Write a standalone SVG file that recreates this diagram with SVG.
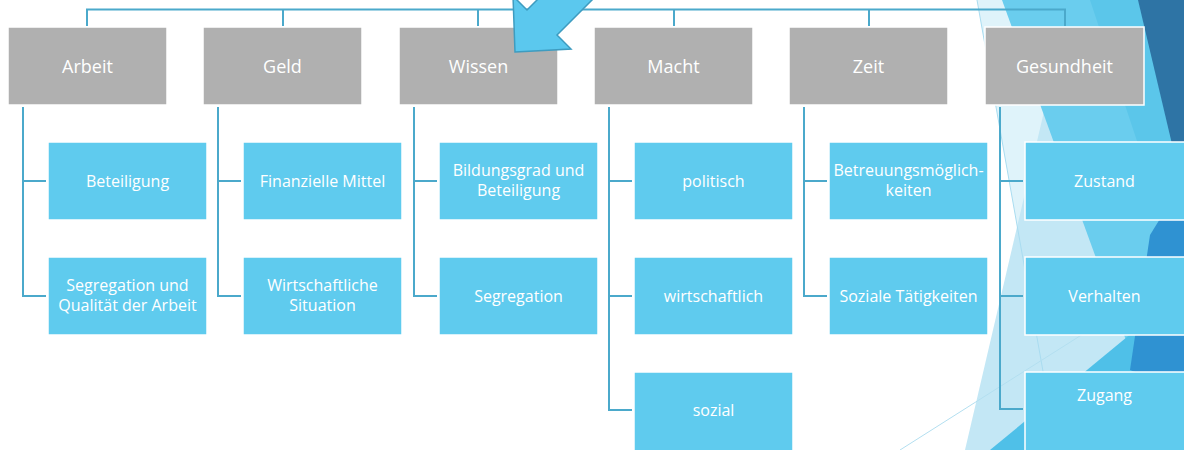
<svg xmlns="http://www.w3.org/2000/svg" width="1184" height="450" viewBox="0 0 1184 450">
<style>
.p{fill:#B0B0B0;stroke:#FFFFFF;stroke-width:1.5}
.c{fill:#5FCBEE;stroke:#FFFFFF;stroke-width:1.5}
.pt{font-family:"Open Sans","Noto Sans",sans-serif;font-size:18px;fill:#FFFFFF;text-anchor:middle}
.ct{font-family:"Open Sans","Noto Sans",sans-serif;font-size:16px;fill:#FFFFFF;text-anchor:middle}
.ln{fill:none;stroke:#4BA9CB;stroke-width:2}
</style>
<rect width="1184" height="450" fill="#FFFFFF"/>
<g id="background">
<polygon points="977,0 1184,0 1184,450 1057,450" fill="#DFF3FA"/>
<polygon points="965,450 1070,0 1184,0 1184,450" fill="#C3E7F5"/>
<polygon points="1002,0 1184,0 1184,450 1166,450" fill="#6ACDEE"/>
<polygon points="1090,0 1184,0 1184,300 1170,240" fill="#5BC6EA"/>
<polygon points="990,450 1184,290 1184,450" fill="#4FC0E8"/>
<polygon points="1150,235 1184,180 1184,390 1130,370" fill="#2F92D2"/>
<polygon points="1138,0 1184,0 1184,195" fill="#2E74A5"/>
<line x1="977" y1="0" x2="1057" y2="450" stroke="#A9DCF0" stroke-width="1"/>
<line x1="900" y1="450" x2="1184" y2="270" stroke="#B3DFF0" stroke-width="1"/>
</g>
<g id="connectors">
<path class="ln" d="M87,26 V9.5 H1065 V26 M283,9.5 V26 M478,9.5 V26 M674,9.5 V26 M869,9.5 V26"/>
<path class="ln" d="M23,107 V296 H46 M23,181 H46"/>
<path class="ln" d="M218,107 V296 H241 M218,181 H241"/>
<path class="ln" d="M414,107 V296 H437 M414,181 H437"/>
<path class="ln" d="M609,107 V410 H632 M609,181 H632 M609,296 H632"/>
<path class="ln" d="M804,107 V296 H827 M804,181 H827"/>
<path class="ln" d="M1000,107 V409 H1023 M1000,181 H1023 M1000,296 H1023"/>
</g>
<g id="n-arbeit"><rect class="p" x="8" y="27" width="159" height="78"/><text class="pt" x="87.5" y="73">Arbeit</text></g>
<g id="n-geld"><rect class="p" x="203" y="27" width="159" height="78"/><text class="pt" x="282.5" y="73">Geld</text></g>
<g id="n-wissen"><rect class="p" x="399" y="27" width="159" height="78"/><text class="pt" x="478.5" y="73">Wissen</text></g>
<g id="n-macht"><rect class="p" x="594" y="27" width="159" height="78"/><text class="pt" x="673.5" y="73">Macht</text></g>
<g id="n-zeit"><rect class="p" x="789" y="27" width="159" height="78"/><text class="pt" x="868.5" y="73">Zeit</text></g>
<g id="n-gesundheit"><rect class="p" x="985" y="27" width="159" height="78"/><text class="pt" x="1064.5" y="73">Gesundheit</text></g>

<g id="n-beteiligung"><rect class="c" x="48" y="142" width="159" height="78"/><text class="ct" x="127.5" y="187">Beteiligung</text></g>
<g id="n-segregation-qualitaet"><rect class="c" x="48" y="257" width="159" height="78"/><text class="ct" x="127.5" y="291">Segregation und</text><text class="ct" x="127.5" y="311">Qualität der Arbeit</text></g>
<g id="n-finanzielle"><rect class="c" x="243" y="142" width="159" height="78"/><text class="ct" x="322.5" y="187">Finanzielle Mittel</text></g>
<g id="n-wirtschaftliche"><rect class="c" x="243" y="257" width="159" height="78"/><text class="ct" x="322.5" y="291">Wirtschaftliche</text><text class="ct" x="322.5" y="311">Situation</text></g>
<g id="n-bildungsgrad"><rect class="c" x="439" y="142" width="159" height="78"/><text class="ct" x="518.5" y="176">Bildungsgrad und</text><text class="ct" x="518.5" y="196">Beteiligung</text></g>
<g id="n-segregation"><rect class="c" x="439" y="257" width="159" height="78"/><text class="ct" x="518.5" y="302">Segregation</text></g>
<g id="n-politisch"><rect class="c" x="634" y="142" width="159" height="78"/><text class="ct" x="713.5" y="187">politisch</text></g>
<g id="n-wirtschaftlich"><rect class="c" x="634" y="257" width="159" height="78"/><text class="ct" x="713.5" y="302">wirtschaftlich</text></g>
<g id="n-sozial"><rect class="c" x="634" y="372" width="159" height="90"/><text class="ct" x="713.5" y="416">sozial</text></g>
<g id="n-betreuung"><rect class="c" x="829" y="142" width="159" height="78"/><text class="ct" x="908.5" y="176">Betreuungsmöglich-</text><text class="ct" x="908.5" y="196">keiten</text></g>
<g id="n-soziale-taetigkeiten"><rect class="c" x="829" y="257" width="159" height="78"/><text class="ct" x="908.5" y="302">Soziale Tätigkeiten</text></g>
<g id="n-zustand"><rect class="c" x="1025" y="142" width="162" height="78"/><text class="ct" x="1104.5" y="187">Zustand</text></g>
<g id="n-verhalten"><rect class="c" x="1025" y="257" width="162" height="78"/><text class="ct" x="1104.5" y="302">Verhalten</text></g>
<g id="n-zugang"><rect class="c" x="1025" y="372" width="162" height="90"/><text class="ct" x="1104.5" y="401">Zugang</text></g>

<g id="arrow">
<polygon points="515,52 571,49 557,35 596,-4 541,-4 527,10 513,-4" fill="#5BC8EE" stroke="#3E9CC0" stroke-width="1.5" stroke-linejoin="miter"/>
</g>
</svg>
